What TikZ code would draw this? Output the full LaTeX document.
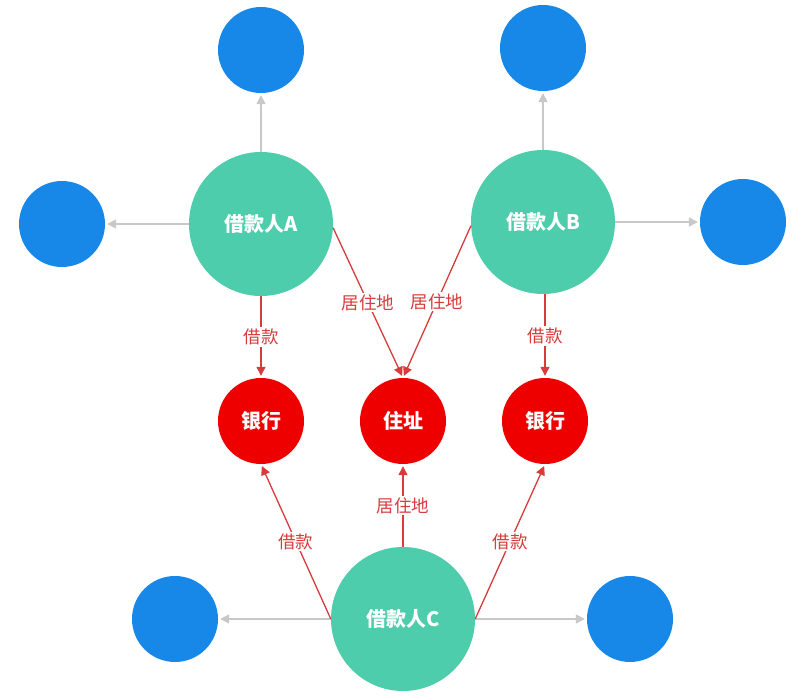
\documentclass[tikz,border=0pt]{standalone}
\usepackage{fontspec}
\setmainfont{Noto Sans CJK SC}
\usetikzlibrary{arrows.meta}
\definecolor{teal1}{HTML}{4ECDAC}
\definecolor{blue1}{HTML}{1888E8}
\definecolor{red1}{HTML}{EE0000}
\definecolor{redline}{HTML}{D63C3C}
\definecolor{gray1}{HTML}{C8C8C8}
\tikzset{
  person/.style={circle,fill=teal1,minimum size=144pt,inner sep=0pt,text=white,font=\fontsize{20}{22}\selectfont\bfseries},
  leaf/.style={circle,fill=blue1,minimum size=86pt,inner sep=0pt},
  target/.style={circle,fill=red1,minimum size=86pt,inner sep=0pt,text=white,font=\fontsize{20}{22}\selectfont\bfseries},
  grayarrow/.style={draw=gray1,line width=1.6pt,-{Triangle[length=9pt,width=9pt]},shorten >=2pt},
  redarrow/.style={draw=redline,line width=1.3pt,-{Triangle[length=9pt,width=9pt]},shorten >=2pt},
  lbl/.style={fill=white,text=redline,inner sep=1.5pt,font=\fontsize{17.5}{19}\selectfont}
}
\begin{document}
\begin{tikzpicture}[x=1pt,y=-1pt]
\useasboundingbox[fill=white] (0,0) rectangle (812,698);
% persons
\node[person] (A) at (261,224) {借款人A};
\node[person] (B) at (543,222) {借款人B};
\node[person] (C) at (403,619) {借款人C};
% leaves
\node[leaf] (TA) at (261,50) {};
\node[leaf] (LA) at (62,224) {};
\node[leaf] (TB) at (543,48) {};
\node[leaf] (RB) at (743,222) {};
\node[leaf] (LC) at (175,619) {};
\node[leaf] (RC) at (630,619) {};
% targets
\node[target] (K1) at (261,421) {银行};
\node[target] (Z) at (403,421) {住址};
\node[target] (K2) at (545,421) {银行};
% gray arrows
\draw[grayarrow] (A.north) -- (TA.south);
\draw[grayarrow] (A.west) -- (LA.east);
\draw[grayarrow] (B.north) -- (TB.south);
\draw[grayarrow] (B.east) -- (RB.west);
\draw[grayarrow] (C.west) -- (LC.east);
\draw[grayarrow] (C.east) -- (RC.west);
% red arrows
\draw[redarrow] (A.south) -- node[lbl] {借款} (K1.north);
\draw[redarrow] (B.south -| K2.north) -- node[lbl] {借款} (K2.north);
\draw[redarrow] (A.-3) -- node[lbl] {居住地} (Z.north);
\draw[redarrow] (B.183) -- node[lbl] {居住地} (Z.north);
\draw[redarrow] (C.west) -- node[lbl] {借款} (K1.south);
\draw[redarrow] (C.north) -- node[lbl] {居住地} (Z.south);
\draw[redarrow] (C.east) -- node[lbl] {借款} (K2.south);
\end{tikzpicture}
\end{document}
